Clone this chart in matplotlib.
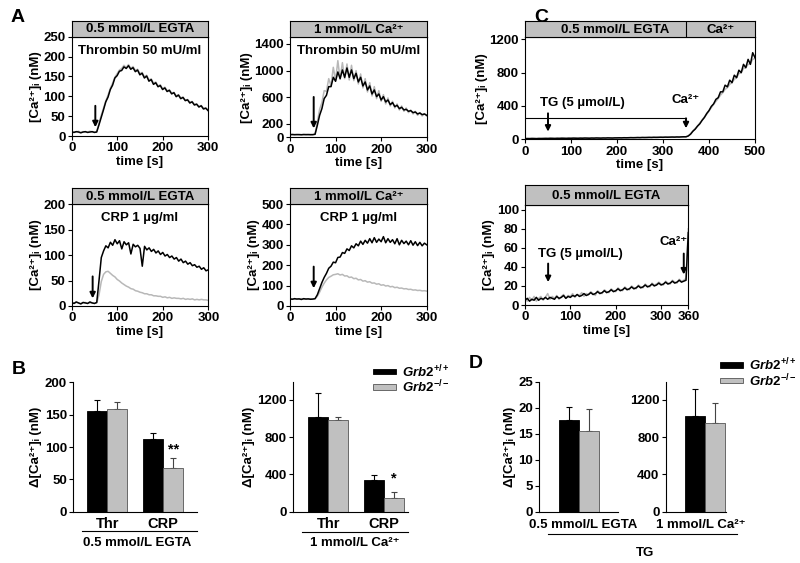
import numpy as np
import matplotlib
matplotlib.use('Agg')
from matplotlib import pyplot as plt
from matplotlib.lines import Line2D

plt.rcParams['font.family'] = ['Liberation Sans', 'DejaVu Sans']
plt.rcParams['font.weight'] = 'bold'
plt.rcParams['axes.labelweight'] = 'bold'
plt.rcParams['mathtext.fontset'] = 'custom'
plt.rcParams['mathtext.rm'] = 'Liberation Sans:bold'
plt.rcParams['mathtext.bf'] = 'Liberation Sans:bold'
plt.rcParams['mathtext.it'] = 'Liberation Sans:italic:bold'
plt.rcParams['mathtext.default'] = 'regular'

W, H = 800, 563
FS = 9.5
GREY_TRACE = '#b8b8b8'
GREY_BAR = '#c0c0c0'
GREY_HEAD = '#c0c0c0'

# ---- traces panel A (time every 5 s, 0-300 s) ----
t_a = np.arange(0, 301, 5)
thr_egta_wt = [10, 9, 11, 10, 8, 10, 11, 9, 10, 11, 9, 10,
               28, 47, 66, 86, 98, 117, 128, 146, 152, 163, 165, 174, 170,
               177, 168, 172, 162, 166, 154, 158, 146, 151, 138, 142, 130, 134, 124, 127, 117, 121, 112,
               115, 106, 109, 99, 103, 94, 97, 89, 91, 83, 86, 78, 80, 73, 76, 68, 70, 64]
thr_egta_ko = [11, 10, 10, 12, 9, 11, 10, 10, 12, 10, 10, 11,
               32, 52, 70, 88, 103, 120, 133, 148, 157, 166, 170, 178, 172,
               180, 170, 175, 165, 168, 157, 160, 149, 153, 141, 144, 133, 136, 126, 129, 119, 123, 114,
               116, 108, 110, 101, 104, 96, 98, 90, 92, 85, 87, 80, 81, 74, 77, 70, 71, 66]
thr_ca_wt = [40, 42, 39, 41, 40, 38, 42, 40, 41, 39, 40, 45,
             180, 330, 430, 580, 630, 760, 760, 900, 840, 980, 880, 1010, 900,
             1040, 900, 1010, 880, 960, 830, 900, 770, 830, 710, 770, 650, 710, 610, 650, 560, 610, 530,
             560, 490, 520, 460, 480, 430, 450, 410, 420, 390, 400, 370, 380, 350, 365, 340, 350, 330]
thr_ca_ko = [38, 40, 41, 39, 42, 40, 39, 41, 40, 42, 39, 50,
             230, 420, 520, 700, 690, 880, 770, 1050, 850, 1150, 870, 1120, 880,
             1100, 860, 1080, 850, 1000, 800, 950, 740, 880, 680, 820, 620, 760, 580, 700, 540, 640, 500,
             590, 470, 540, 440, 500, 410, 470, 390, 440, 370, 410, 350, 390, 330, 370, 320, 355, 320]
crp_egta_wt = [7, 5, 8, 6, 4, 7, 6, 5, 8, 6, 5, 7,
               50, 95, 108, 118, 114, 125, 119, 130, 122, 128, 112, 126, 120,
               124, 102, 121, 116, 119, 113, 78, 117, 110, 114, 107, 111, 104, 108, 101, 105, 98, 101,
               95, 98, 92, 95, 88, 92, 85, 88, 82, 85, 79, 81, 76, 78, 72, 75, 69, 71]
crp_egta_ko = [6, 5, 7, 6, 5, 6, 7, 5, 6, 6, 5, 6,
               22, 48, 62, 67, 68, 64, 60, 57, 52, 49, 45, 42, 39,
               37, 34, 33, 30, 29, 27, 26, 24, 24, 22, 22, 20, 20, 19, 19, 17, 18, 16,
               17, 15, 16, 15, 15, 14, 15, 13, 14, 13, 14, 12, 13, 12, 13, 12, 12, 11]
crp_ca_wt = [35, 33, 36, 34, 35, 32, 36, 34, 35, 33, 34, 36,
             55, 85, 115, 140, 160, 185, 195, 215, 212, 238, 240, 262, 258,
             280, 272, 295, 285, 305, 295, 318, 302, 322, 308, 330, 310, 335, 312, 328, 315, 340, 310,
             330, 312, 325, 305, 330, 300, 322, 306, 318, 300, 320, 298, 315, 296, 312, 295, 308, 300]
crp_ca_ko = [34, 35, 33, 35, 34, 36, 33, 35, 34, 35, 33, 35,
             48, 68, 92, 112, 128, 140, 146, 153, 155, 158, 152, 155, 147,
             148, 140, 142, 134, 136, 128, 130, 122, 124, 117, 119, 112, 113, 107, 109, 102, 104, 98,
             100, 94, 96, 90, 92, 87, 88, 84, 85, 81, 82, 78, 79, 76, 77, 74, 75, 73]

# ---- traces panel C ----
t_c1 = np.arange(0, 501, 5)
tg_ca_wt = [8, 9, 8, 10, 9, 8, 10, 9, 10, 11,
            10, 12, 11, 10, 12, 11, 13, 12, 11, 13,
            12, 14, 13, 12, 14, 13, 15, 14, 13, 15,
            14, 16, 15, 14, 16, 15, 17, 16, 15, 17,
            17, 18, 17, 19, 18, 19, 20, 19, 20, 21,
            20, 22, 21, 22, 23, 22, 24, 23, 24, 25,
            24, 26, 25, 26, 27, 26, 28, 27, 29, 30,
            30, 40, 62, 97, 122, 158, 186, 228, 262, 310,
            345, 395, 425, 480, 500, 570, 570, 650, 630, 710,
            680, 770, 740, 830, 800, 900, 860, 960, 900, 1040, 980]
tg_ca_ko = [9, 8, 10, 9, 10, 9, 9, 11, 10, 10,
            11, 11, 12, 11, 11, 12, 12, 13, 12, 12,
            13, 13, 14, 13, 13, 14, 14, 15, 14, 14,
            15, 15, 16, 15, 15, 16, 16, 17, 16, 16,
            18, 17, 18, 18, 19, 18, 20, 20, 19, 21,
            21, 21, 22, 21, 23, 23, 23, 24, 23, 25,
            25, 25, 26, 25, 27, 27, 27, 28, 28, 30,
            30, 42, 68, 100, 130, 160, 195, 230, 268, 300,
            340, 380, 420, 455, 490, 530, 560, 600, 620, 660,
            680, 720, 740, 790, 800, 850, 860, 900, 910, 960, 970]
t_c2 = np.arange(0, 361, 5)
tg_egta_wt = [5, 7, 4, 6, 5, 8, 5, 7, 6, 8,
              6, 8, 7, 6, 9, 7, 8, 10, 7, 9,
              8, 10, 9, 11, 9, 10, 12, 10, 11, 13,
              11, 12, 14, 12, 13, 15, 13, 14, 16, 14,
              15, 17, 15, 16, 18, 16, 17, 19, 17, 18,
              20, 18, 19, 21, 19, 20, 22, 20, 21, 23,
              21, 22, 24, 22, 23, 25, 23, 24, 26, 24,
              25, 26, 76]
tg_egta_ko = [6, 4, 8, 5, 9, 4, 7, 9, 5, 8,
              12, 6, 9, 7, 10, 6, 9, 11, 7, 10,
              9, 12, 8, 11, 10, 13, 9, 12, 11, 14,
              12, 10, 15, 13, 12, 16, 14, 13, 17, 15,
              14, 18, 16, 15, 19, 17, 16, 20, 18, 17,
              21, 19, 18, 22, 20, 19, 23, 21, 22, 24,
              22, 21, 25, 23, 22, 26, 24, 23, 27, 25,
              26, 28, 80]

# ---- bar data ----
groups = ['Thr', 'CRP']
b_egta_wt, b_egta_wt_err = [155, 112], [17, 10]
b_egta_ko, b_egta_ko_err = [158, 67], [12, 16]
b_ca_wt, b_ca_wt_err = [1020, 340], [255, 50]
b_ca_ko, b_ca_ko_err = [985, 150], [35, 60]
d_egta_wt, d_egta_wt_err = [17.7], [2.4]
d_egta_ko, d_egta_ko_err = [15.6], [4.1]
d_ca_wt, d_ca_wt_err = [1030], [290]
d_ca_ko, d_ca_ko_err = [955], [210]

CA = 'Ca²⁺'
EGTA = '0.5 mmol/L EGTA'
CA1 = '1 mmol/L ' + CA

fig = plt.figure(figsize=(W / 100, H / 100), dpi=100)

def px_axes(l, t, r, b):
    return fig.add_axes([l / W, 1 - b / H, (r - l) / W, (b - t) / H])

def fx(x):
    return x / W

def fy(y):
    return 1 - y / H

def style(ax):
    ax.tick_params(direction='out', length=3, width=0.8, labelsize=FS, pad=1.5)
    for s in ax.spines.values():
        s.set_linewidth(0.8)

def header(ax, top_px, text, xc=0.5):
    pos = ax.get_position()
    hax = fig.add_axes([pos.x0, pos.y1, pos.width, fy(top_px) - pos.y1])
    hax.set_facecolor(GREY_HEAD)
    hax.set_xticks([])
    hax.set_yticks([])
    for s in hax.spines.values():
        s.set_linewidth(0.8)
    if text:
        hax.text(xc, 0.45, text, ha='center', va='center', fontsize=FS,
                 fontweight='bold', transform=hax.transAxes)
    return hax

def arrow(ax, x, y0, y1):
    ax.annotate('', xy=(x, y1), xytext=(x, y0),
                arrowprops=dict(arrowstyle='-|>', color='k', lw=1.4,
                                mutation_scale=8, shrinkA=0, shrinkB=0))

ylab = '[' + CA + ']ᵢ (nM)'
dylab = 'Δ[' + CA + ']ᵢ (nM)'

def trace_panel(box, top, ko, wt, t, ylim, yticks, xlim, xticks, head, inner, inner_y, arr):
    ax = px_axes(*box)
    ax.plot(t, ko, color=GREY_TRACE, lw=1.1)
    ax.plot(t, wt, color='k', lw=1.1)
    ax.set_xlim(*xlim)
    ax.set_ylim(*ylim)
    ax.set_xticks(xticks)
    ax.set_yticks(yticks)
    ax.set_xlabel('time [s]', fontsize=FS, labelpad=1)
    ax.set_ylabel(ylab, fontsize=FS, labelpad=1)
    style(ax)
    if inner:
        ax.text(150, inner_y, inner, ha='center', va='center', fontsize=FS)
    if arr:
        arrow(ax, *arr)
    if head is not None:
        header(ax, top, head)
    return ax

trace_panel((71.7, 36.7, 208, 136), 20.7, thr_egta_ko, thr_egta_wt, t_a, (0, 250),
            [0, 50, 100, 150, 200, 250], (0, 300), [0, 100, 200, 300],
            EGTA, 'Thrombin 50 mU/ml', 214, (52, 76, 22))
trace_panel((290, 37.3, 426.7, 137.3), 20.7, thr_ca_ko, thr_ca_wt, t_a, (0, 1500),
            [0, 200, 600, 1000, 1400], (0, 300), [0, 100, 200, 300],
            CA1, 'Thrombin 50 mU/ml', 1300, (52, 605, 134))
trace_panel((71.7, 204, 208.3, 306), 187.5, crp_egta_ko, crp_egta_wt, t_a, (0, 200),
            [0, 50, 100, 150, 200], (0, 300), [0, 100, 200, 300],
            EGTA, 'CRP 1 µg/ml', 172, (46, 58, 15))
trace_panel((290, 204, 426.7, 306), 188.3, crp_ca_ko, crp_ca_wt, t_a, (0, 500),
            [0, 100, 200, 300, 400, 500], (0, 300), [0, 100, 200, 300],
            CA1, 'CRP 1 µg/ml', 430, (52, 193, 87))

# ---- panel C ----
axc1 = trace_panel((525, 37.3, 755, 139.3), 20.7, tg_ca_ko, tg_ca_wt, t_c1, (0, 1225),
                   [0, 400, 800, 1200], (0, 500), [0, 100, 200, 300, 400, 500],
                   None, None, 0, (50, 312, 92))
axc1.plot([0, 350], [260, 260], color='k', lw=0.8)
axc1.text(33, 432, 'TG (5 µmol/L)', ha='left', va='center', fontsize=FS)
arrow(axc1, 350, 252, 132)
axc1.text(350, 475, CA, ha='center', va='center', fontsize=FS)
hc = header(axc1, 20.7, None)
hc.set_xlim(0, 500)
hc.axvline(350, color='k', lw=0.8)
hc.text(196, 0.45, EGTA, ha='center', va='center', fontsize=FS,
        transform=hc.get_xaxis_transform())
hc.text(425, 0.45, CA, ha='center', va='center', fontsize=FS,
        transform=hc.get_xaxis_transform())

axc2 = trace_panel((525, 205, 688.3, 305), 185, tg_egta_ko, tg_egta_wt, t_c2, (0, 105),
                   [0, 20, 40, 60, 80, 100], (0, 360), [0, 100, 200, 300, 360],
                   EGTA, None, 0, (51, 43.5, 24))
axc2.text(29, 54, 'TG (5 µmol/L)', ha='left', va='center', fontsize=FS)
arrow(axc2, 350, 54, 32)
axc2.text(358, 66, CA, ha='right', va='center', fontsize=FS)

# ---- bar panels ----
def bar_panel(box, centers, wt, wt_err, ko, ko_err, xmax, ylim, yticks, xlabels):
    ax = px_axes(*box)
    c = np.array(centers)
    ax.bar(c - 0.5, wt, width=1, color='k', edgecolor='k', lw=0.6, zorder=2)
    ax.bar(c + 0.5, ko, width=1, color=GREY_BAR, edgecolor='#555555', lw=0.6, zorder=2)
    ax.errorbar(c - 0.5, wt, yerr=[np.zeros(len(wt)), wt_err], fmt='none',
                ecolor='k', elinewidth=0.8, capsize=2.5, capthick=0.8, zorder=1)
    ax.errorbar(c + 0.5, ko, yerr=[np.zeros(len(ko)), ko_err], fmt='none',
                ecolor='#444444', elinewidth=0.8, capsize=2.5, capthick=0.8, zorder=1)
    ax.set_xlim(0, xmax)
    ax.set_ylim(*ylim)
    ax.set_yticks(yticks)
    ax.set_xticks(c)
    ax.set_xticklabels(xlabels)
    ax.spines['top'].set_visible(False)
    ax.spines['right'].set_visible(False)
    style(ax)
    ax.tick_params(axis='x', length=0, pad=4)
    ax.set_ylabel(dylab, fontsize=FS, labelpad=2)
    return ax

axb1 = bar_panel((73.3, 382.3, 196.7, 511.7), [1.7, 4.5], b_egta_wt, b_egta_wt_err,
                 b_egta_ko, b_egta_ko_err, 6.17, (0, 200), [0, 50, 100, 150, 200], groups)
axb1.text(5.0, 96, '**', ha='center', va='center', fontsize=FS + 1)
axb2 = bar_panel((293.3, 382.3, 408.3, 511.7), [1.75, 4.55], b_ca_wt, b_ca_wt_err,
                 b_ca_ko, b_ca_ko_err, 5.75, (0, 1390), [0, 400, 800, 1200], groups)
axb2.text(5.05, 352, '*', ha='center', va='center', fontsize=FS + 1)
for ax in (axb1, axb2):
    ax.tick_params(axis='x', labelsize=FS + 1)

axd1 = bar_panel((539.3, 381.7, 617.7, 511.7), [1.96], d_egta_wt, d_egta_wt_err,
                 d_egta_ko, d_egta_ko_err, 3.92, (0, 25), [0, 5, 10, 15, 20, 25], [''])
axd2 = bar_panel((665.7, 382, 726, 511.7), [1.94], d_ca_wt, d_ca_wt_err,
                 d_ca_ko, d_ca_ko_err, 3.0, (0, 1390), [0, 400, 800, 1200], [''])
axd2.set_ylabel('')

# group labels, underlines
def fig_line(x0, x1, y):
    fig.add_artist(Line2D([fx(x0), fx(x1)], [fy(y), fy(y)], color='k', lw=0.8))

fig_line(81.7, 196.7, 530.7)
fig.text(fx(137), fy(543.5), EGTA, ha='center', va='center', fontsize=FS)
fig_line(301.7, 408.3, 532)
fig.text(fx(355), fy(543.5), CA1, ha='center', va='center', fontsize=FS)
fig.text(fx(583), fy(525), EGTA, ha='center', va='center', fontsize=FS)
fig.text(fx(701), fy(525), CA1, ha='center', va='center', fontsize=FS)
fig_line(548, 736.7, 533.5)
fig.text(fx(645), fy(553), 'TG', ha='center', va='center', fontsize=FS)

# legends
def legend(x, y):
    for i, (fc, ec, lab) in enumerate([('k', 'k', r'$\mathit{Grb2^{+/+}}$'),
                                        (GREY_BAR, '#555555', r'$\mathit{Grb2^{-/-}}$')]):
        yy = y + i * 15.5
        fig.add_artist(plt.Rectangle((fx(x), fy(yy + 2.8)), 23 / W, 5.6 / H,
                                     facecolor=fc, edgecolor=ec, lw=0.6))
        fig.text(fx(x + 29), fy(yy), lab, ha='left', va='center', fontsize=FS)

legend(373, 371.5)
legend(720, 365)

# panel letters
for lab, x, y in [('A', 18, 17), ('B', 19, 369), ('C', 541, 17), ('D', 476, 364)]:
    fig.text(fx(x), fy(y), lab, ha='center', va='center', fontsize=14, fontweight='bold')

fig.savefig('out.png', dpi=100)
